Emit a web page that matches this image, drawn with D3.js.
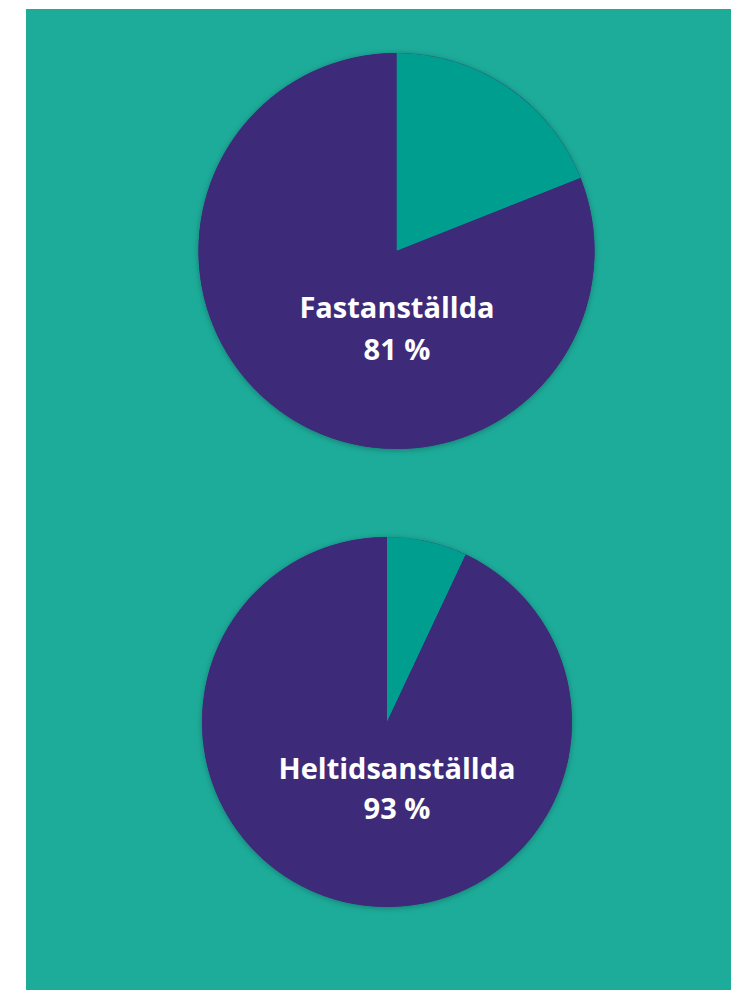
<!DOCTYPE html>
<html lang="sv">
<head>
  <meta charset="UTF-8">
  <title>Fastanställda och heltidsanställda</title>
  <script src="https://d3js.org/d3.v7.min.js"></script>
  <style>
    body { margin: 0; background: #fff; }
    svg { display: block; }
  </style>
</head>
<body>
<script>
  // data: share of employees (percent)
  var labels = ["Fastanställda", "Heltidsanställda"];
  var values = [81, 93];
  var sliceNames = ["ja", "övriga"];

  var W = 731, H = 990;
  var bgColor = "#1dac9a";
  var color = d3.scaleOrdinal().domain(sliceNames).range(["#3d2b7a", "#009e8e"]);

  // pie positions / sizes
  var layout = [
    {cx: 396.5, cy: 251, r: 198, tx: 397, ty: 318, gap: 42},
    {cx: 387, cy: 722, r: 185, tx: 397, ty: 779, gap: 40}
  ];

  var svg = d3.select("body").append("svg")
      .attr("width", W)
      .attr("height", H);

  var defs = svg.append("defs");
  defs.append("filter")
      .attr("id", "shadow")
      .attr("x", "-10%").attr("y", "-10%")
      .attr("width", "120%").attr("height", "120%")
    .append("feDropShadow")
      .attr("dx", 0).attr("dy", 1)
      .attr("stdDeviation", 3)
      .attr("flood-color", "#000")
      .attr("flood-opacity", 0.3);

  svg.append("rect")
      .attr("x", 26).attr("y", 9)
      .attr("width", W - 26).attr("height", H - 9)
      .attr("fill", bgColor);

  // remainder slice first, clockwise from 12 o'clock
  var pie = d3.pie()
      .sort(null)
      .value(function(d) { return d.value; })
      .startAngle(0)
      .endAngle(2 * Math.PI);

  values.forEach(function(v, i) {
    var L = layout[i];
    var data = [
      {name: "övriga", value: 100 - v},
      {name: "ja", value: v}
    ];
    var arc = d3.arc().innerRadius(0).outerRadius(L.r);

    var g = svg.append("g")
        .attr("transform", "translate(" + L.cx + "," + L.cy + ")");

    g.append("circle")
        .attr("r", L.r)
        .attr("fill", color("ja"))
        .attr("filter", "url(#shadow)");

    g.selectAll("path")
      .data(pie(data))
      .enter().append("path")
        .attr("d", arc)
        .attr("fill", function(d) { return color(d.data.name); });

    var t = svg.append("text")
        .attr("x", L.tx)
        .attr("y", L.ty)
        .attr("text-anchor", "middle")
        .style("font-family", "'Open Sans', sans-serif")
        .style("font-weight", "bold")
        .style("font-size", "29px")
        .attr("fill", "#fff");
    t.append("tspan").attr("x", L.tx).text(labels[i]);
    t.append("tspan").attr("x", L.tx).attr("dy", L.gap).text(v + " %");
  });
</script>
</body>
</html>
